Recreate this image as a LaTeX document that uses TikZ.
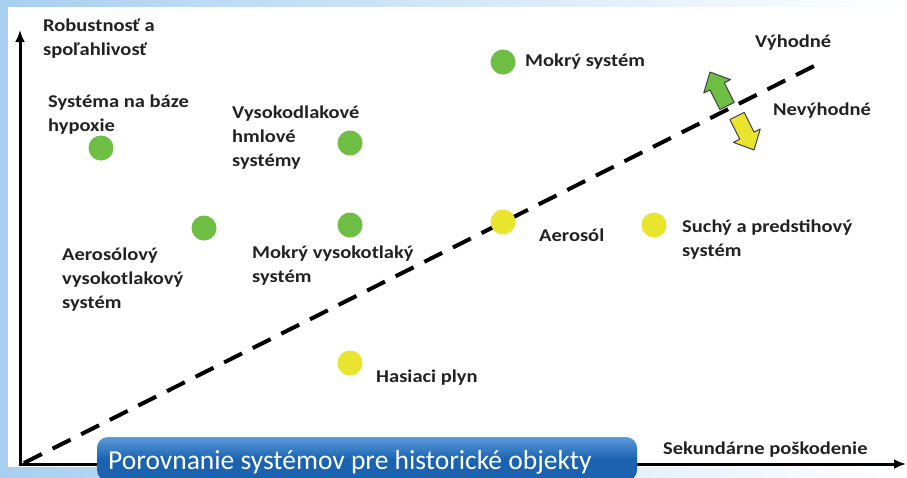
\documentclass[tikz,border=0pt]{standalone}
\usepackage{fontspec}
\setmainfont{Carlito}
\newfontfamily\lblfont{Carlito}[FakeStretch=1.14]
\usetikzlibrary{arrows.meta}
\definecolor{bgblue}{HTML}{A8CFF0}
\definecolor{dotgreen}{HTML}{6EBE44}
\definecolor{dotyellow}{HTML}{E9E52F}
\definecolor{boxblue}{HTML}{1B63B1}
\definecolor{boxlight}{HTML}{5A9BDA}
\definecolor{txt}{HTML}{222222}
\begin{document}
\begin{tikzpicture}[x=1pt,y=-1pt,
  lbl/.style={font=\lblfont\bfseries\fontsize{18}{24}\selectfont, text=txt, align=left, anchor=west, inner sep=0pt},
  gdot/.style={circle, fill=dotgreen, minimum size=25pt, inner sep=0pt},
  ydot/.style={circle, fill=dotyellow, minimum size=25pt, inner sep=0pt},
  axisline/.style={line width=3pt, {Latex[length=12pt,width=10pt]}-{Latex[length=12pt,width=10pt]}},
  divline/.style={line width=4pt, dash pattern=on 20pt off 12pt},
  bigarrow/.style={draw=black!75, line width=1pt, line join=round},
  titlebox/.style={rounded corners=11pt, top color=boxlight, bottom color=boxblue, middle color=boxblue,
     text=white, font=\fontsize{28}{30}\selectfont, minimum width=540pt, minimum height=44pt, inner sep=0pt},
  titletext/.style={text=white, font=\fontsize{27.5}{30}\selectfont, anchor=west, inner sep=0pt}
]
\useasboundingbox (0,0) rectangle (907,477);
\shade[left color=bgblue, right color=white] (0,0) rectangle (907,477);
\fill[white] (8,7) rectangle (907,467);

% axes
\coordinate (ytop) at (20,30);
\coordinate (O) at (20,464);
\coordinate (xend) at (906,464);
\draw[axisline] (ytop) -- (O) -- (xend);

% dividing line
\coordinate (d0) at (24,463);
\coordinate (d1) at (818,64);
\draw[divline] (d0) -- (d1);

% dots
\node[gdot] (g1) at (101,148) {};
\node[gdot] (g2) at (350,143) {};
\node[gdot] (g3) at (503,62) {};
\node[gdot] (g4) at (204,228) {};
\node[gdot] (g5) at (350,225) {};
\node[ydot] (y1) at (350,363) {};
\node[ydot] (y2) at (503,222) {};
\node[ydot] (y3) at (654,225) {};

% labels
\node[lbl] (ylab) at (43,39) {Robustnosť a\\spoľahlivosť};
\node[lbl] (hyp) at (48,115) {Systéma na báze\\hypoxie};
\node[lbl] (hml) at (232,138) {Vysokodlakové\\hmlové\\systémy};
\node[lbl] (mok) at (525,62) {Mokrý systém};
\node[lbl] (vyh) at (755,43) {Výhodné};
\node[lbl] (nev) at (773,111) {Nevýhodné};
\node[lbl] (aer2) at (62,280) {Aerosólový\\vysokotlakový\\systém};
\node[lbl] (mvs) at (252,266) {Mokrý vysokotlaký\\systém};
\node[lbl] (aer) at (539,235) {Aerosól};
\node[lbl] (such) at (682,240) {Suchý a predstihový\\systém};
\node[lbl] (has) at (376,378) {Hasiaci plyn};
\node[lbl] (xlab) at (663,450) {Sekundárne poškodenie};

% direction arrows
\begin{scope}[shift={(727,106)}, rotate=116.6]
\draw[bigarrow, fill=dotgreen] (0,8) -- (22,8) -- (22,15) -- (38,0) -- (22,-15) -- (22,-8) -- (0,-8) -- cycle;
\end{scope}
\begin{scope}[shift={(737,116)}, rotate=-63.4]
\draw[bigarrow, fill=dotyellow] (0,8) -- (22,8) -- (22,15) -- (38,0) -- (22,-15) -- (22,-8) -- (0,-8) -- cycle;
\end{scope}

% caption
\node[titlebox] (title) at (367,459) {};
\node[titletext] (ttl) at (108,462) {Porovnanie systémov pre historické objekty};
\end{tikzpicture}
\end{document}
